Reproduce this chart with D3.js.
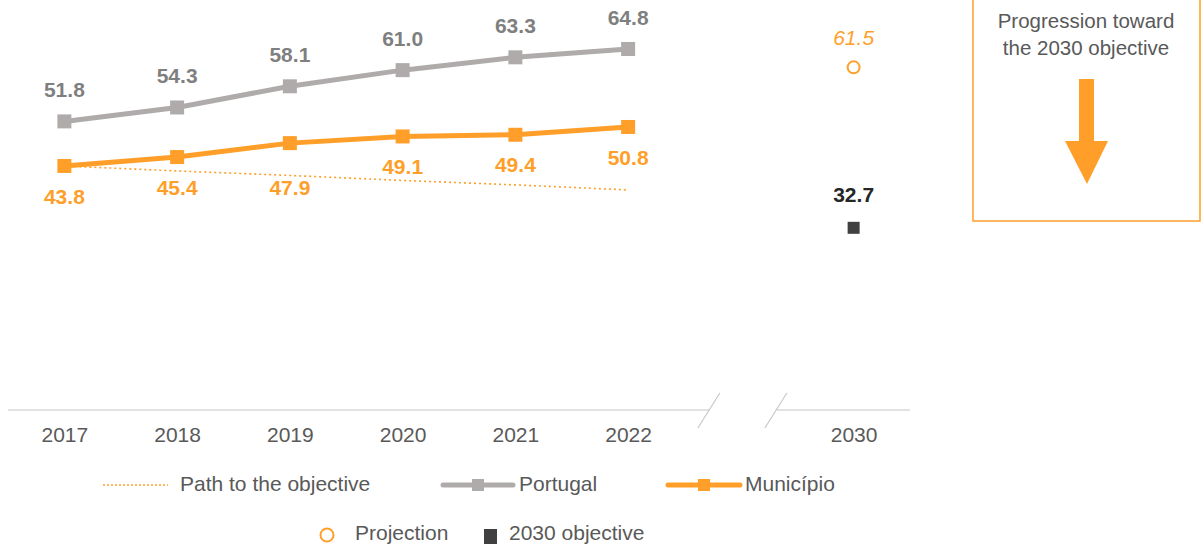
<!DOCTYPE html>
<html><head><meta charset="utf-8">
<script src="https://cdn.jsdelivr.net/npm/d3@7"></script>
<style>
html,body{margin:0;padding:0;background:#fff;}
svg{display:block;font-family:"Liberation Sans",Arial,sans-serif;}
</style></head>
<body><svg id="c" width="1203" height="550"></svg>
<script>
const years = ["2017","2018","2019","2020","2021","2022"];
const gapKey = "gap";
const targetYear = "2030";
const portugal = [51.8, 54.3, 58.1, 61.0, 63.3, 64.8];
const municipio = [43.8, 45.4, 47.9, 49.1, 49.4, 50.8];
const pathToObjective = [43.8, 42.9, 42.1, 41.2, 40.4, 39.5];
const projection2030 = 61.5;
const objective2030 = 32.7;
const legendRow1 = ["Path to the objective", "Portugal", "Município"];
const legendRow2 = ["Projection", "2030 objective"];
const boxTitle = ["Progression toward", "the 2030 objective"];

const ORANGE = "#FF9F2A", GRAY = "#AFABAB", GRAYTXT = "#7F7F7F", DARK = "#404040", AXTXT = "#595959";
const FS = "21px";
const svg = d3.select("#c");

const x = d3.scalePoint().domain([...years, gapKey, targetYear]).range([8, 910]).padding(0.5);
const y = d3.scaleLinear().domain([0, 70]).range([410, 20]);

// axis line with break
const axisY = y(0);
const gx = x(gapKey);
svg.append("line").attr("x1", 8).attr("x2", gx - 32).attr("y1", axisY).attr("y2", axisY)
  .attr("stroke", "#D9D9D9").attr("stroke-width", 1.5);
svg.append("line").attr("x1", gx + 36).attr("x2", 910).attr("y1", axisY).attr("y2", axisY)
  .attr("stroke", "#D9D9D9").attr("stroke-width", 1.5);
[gx - 32, gx + 35].forEach(bx => {
  svg.append("line").attr("x1", bx - 11).attr("y1", axisY + 18).attr("x2", bx + 11).attr("y2", axisY - 17)
    .attr("stroke", "#C8C8C8").attr("stroke-width", 1.2);
});

const axis = d3.axisBottom(x).tickValues([...years, targetYear]).tickSize(0).tickPadding(0);
const ag = svg.append("g").attr("transform", `translate(0,${axisY})`).call(axis);
ag.select(".domain").remove();
ag.selectAll("text").attr("dy", null).attr("y", 26).attr("dominant-baseline", "middle")
  .attr("fill", AXTXT).style("font-size", FS).style("font-family", '"Liberation Sans",Arial,sans-serif');

// path to objective
const line = d3.line().x((d, i) => x(years[i])).y(d => y(d));
svg.append("path").datum(pathToObjective).attr("d", line).attr("fill", "none")
  .attr("stroke", ORANGE).attr("stroke-width", 1.6).attr("stroke-dasharray", "2,3");

// Portugal
svg.append("path").datum(portugal).attr("d", line).attr("fill", "none")
  .attr("stroke", GRAY).attr("stroke-width", 5);
svg.selectAll(".pm").data(portugal).enter().append("rect")
  .attr("x", (d, i) => x(years[i]) - 7).attr("y", d => y(d) - 7).attr("width", 14).attr("height", 14).attr("fill", GRAY);
svg.selectAll(".pl").data(portugal).enter().append("text")
  .attr("x", (d, i) => x(years[i])).attr("y", d => y(d) - 30).attr("text-anchor", "middle").attr("dominant-baseline", "middle")
  .attr("fill", GRAYTXT).style("font-size", FS).style("font-weight", "bold").text(d => d.toFixed(1));

// Municipio
svg.append("path").datum(municipio).attr("d", line).attr("fill", "none")
  .attr("stroke", ORANGE).attr("stroke-width", 5);
svg.selectAll(".mm").data(municipio).enter().append("rect")
  .attr("x", (d, i) => x(years[i]) - 7).attr("y", d => y(d) - 7).attr("width", 14).attr("height", 14).attr("fill", ORANGE);
// label placed below the dotted path when the two would collide
svg.selectAll(".ml").data(municipio).enter().append("text")
  .attr("x", (d, i) => x(years[i]))
  .attr("y", (d, i) => {
    const base = y(d) + 32;
    const py = y(pathToObjective[i]);
    return Math.abs(base - py) < 10 ? py + 14 : base;
  })
  .attr("text-anchor", "middle").attr("dominant-baseline", "middle")
  .attr("fill", ORANGE).style("font-size", FS).style("font-weight", "bold").text(d => d.toFixed(1));

// 2030 projection
const tx = x(targetYear);
svg.append("circle").attr("cx", tx).attr("cy", y(projection2030)).attr("r", 6)
  .attr("fill", "#fff").attr("stroke", ORANGE).attr("stroke-width", 2);
svg.append("text").attr("x", tx).attr("y", y(projection2030) - 28).attr("text-anchor", "middle").attr("dominant-baseline", "middle")
  .attr("fill", ORANGE).style("font-size", FS).style("font-style", "italic").text(projection2030.toFixed(1));

// 2030 objective
svg.append("rect").attr("x", tx - 6).attr("y", y(objective2030) - 6).attr("width", 12).attr("height", 12).attr("fill", DARK);
svg.append("text").attr("x", tx).attr("y", y(objective2030) - 31).attr("text-anchor", "middle").attr("dominant-baseline", "middle")
  .attr("fill", "#262626").style("font-size", FS).style("font-weight", "bold").text(objective2030.toFixed(1));

// box
svg.append("rect").attr("x", 973).attr("y", -5).attr("width", 227).attr("height", 226)
  .attr("fill", "none").attr("stroke", ORANGE).attr("stroke-width", 1.5);
boxTitle.forEach((t, i) => {
  svg.append("text").attr("x", 1086).attr("y", 23 + i * 27).attr("text-anchor", "middle").attr("dominant-baseline", "middle")
    .attr("fill", AXTXT).style("font-size", "20.5px").text(t);
});
svg.append("path").attr("d", "M1079,79 L1094,79 L1094,141 L1108,141 L1087,184 L1065,141 L1079,141 Z").attr("fill", ORANGE);

// legend row 1
const ly1 = 485;
svg.append("line").attr("x1", 103).attr("x2", 168).attr("y1", ly1).attr("y2", ly1)
  .attr("stroke", ORANGE).attr("stroke-width", 1.6).attr("stroke-dasharray", "2,2");
svg.append("text").attr("x", 180).attr("y", ly1).attr("dominant-baseline", "middle").attr("fill", AXTXT).style("font-size", FS).text(legendRow1[0]);
svg.append("line").attr("x1", 443).attr("x2", 513).attr("y1", ly1).attr("y2", ly1).attr("stroke", GRAY).attr("stroke-width", 5).attr("stroke-linecap", "round");
svg.append("rect").attr("x", 472).attr("y", ly1 - 6).attr("width", 12).attr("height", 12).attr("fill", GRAY);
svg.append("text").attr("x", 519).attr("y", ly1).attr("dominant-baseline", "middle").attr("fill", AXTXT).style("font-size", FS).text(legendRow1[1]);
svg.append("line").attr("x1", 668).attr("x2", 740).attr("y1", ly1).attr("y2", ly1).attr("stroke", ORANGE).attr("stroke-width", 5).attr("stroke-linecap", "round");
svg.append("rect").attr("x", 698).attr("y", ly1 - 6).attr("width", 12).attr("height", 12).attr("fill", ORANGE);
svg.append("text").attr("x", 745).attr("y", ly1).attr("dominant-baseline", "middle").attr("fill", AXTXT).style("font-size", FS).text(legendRow1[2]);

// legend row 2
const ly2 = 534;
svg.append("circle").attr("cx", 327).attr("cy", ly2 + 1).attr("r", 6.5).attr("fill", "none").attr("stroke", ORANGE).attr("stroke-width", 2);
svg.append("text").attr("x", 355).attr("y", ly2).attr("dominant-baseline", "middle").attr("fill", AXTXT).style("font-size", FS).text(legendRow2[0]);
svg.append("rect").attr("x", 484).attr("y", ly2 - 5).attr("width", 13).attr("height", 15).attr("fill", DARK);
svg.append("text").attr("x", 509).attr("y", ly2).attr("dominant-baseline", "middle").attr("fill", AXTXT).style("font-size", FS).text(legendRow2[1]);
</script></body></html>
